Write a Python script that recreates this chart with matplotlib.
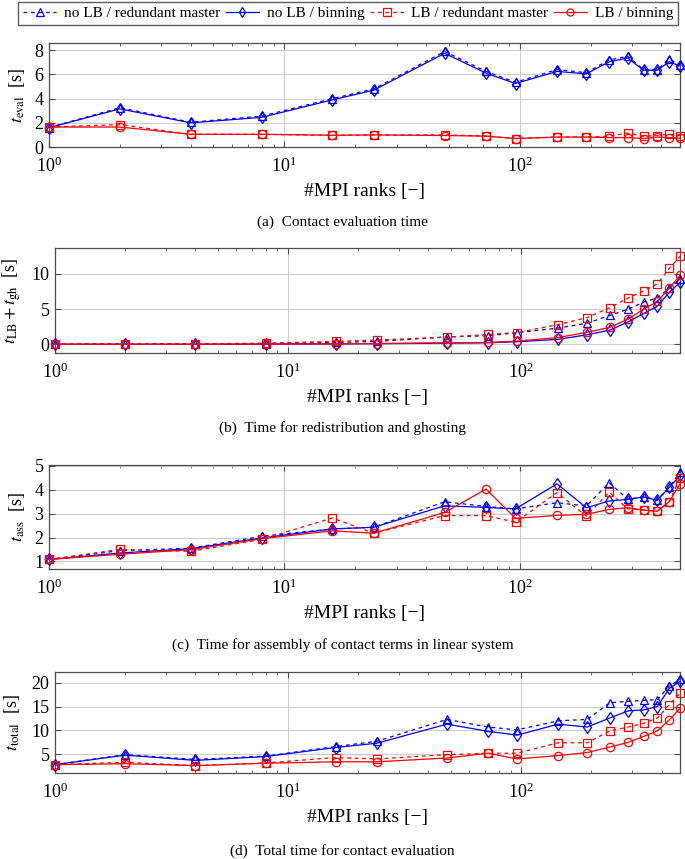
import numpy as np
import matplotlib
matplotlib.use("Agg")
import matplotlib.pyplot as plt

plt.rcParams['font.family'] = 'serif'
plt.rcParams['font.serif'] = ['Liberation Serif', 'DejaVu Serif']
plt.rcParams['mathtext.fontset'] = 'stix'

# -------------------------------
# Data
# -------------------------------
ranks = [1, 2, 4, 8, 16, 24, 48, 72, 96, 144, 192, 240, 288, 336, 384, 432, 480]

labels = ['no LB / redundant master', 'no LB / binning',
          'LB / redundant master', 'LB / binning']

# (a) contact evaluation time
eval_nolb_red = [1.6, 3.25, 2.05, 2.55, 4.0, 4.8, 7.9, 6.25, 5.35, 6.4, 6.15, 7.2, 7.5, 6.4, 6.4, 7.25, 6.8]
eval_nolb_bin = [1.6, 3.15, 2.0, 2.45, 3.9, 4.7, 7.75, 6.1, 5.25, 6.25, 6.05, 7.05, 7.35, 6.35, 6.35, 7.05, 6.7]
eval_lb_red = [1.65, 1.85, 1.05, 1.05, 0.97, 1.0, 1.0, 0.9, 0.7, 0.82, 0.82, 0.9, 1.15, 0.88, 0.95, 1.05, 0.93]
eval_lb_bin = [1.65, 1.65, 1.05, 1.05, 0.97, 1.0, 0.95, 0.9, 0.7, 0.82, 0.82, 0.78, 0.78, 0.7, 0.82, 0.78, 0.72]

# (b) redistribution and ghosting
redis_nolb_red = [0.0, 0.05, 0.05, 0.1, 0.25, 0.4, 1.05, 1.2, 1.65, 2.3, 3.0, 4.1, 5.0, 6.0, 6.6, 8.0, 9.3]
redis_nolb_bin = [0.0, 0.0, 0.0, 0.02, 0.05, 0.08, 0.15, 0.2, 0.35, 0.7, 1.35, 2.0, 3.2, 4.4, 5.4, 7.4, 8.8]
redis_lb_red = [0.0, 0.05, 0.05, 0.15, 0.4, 0.6, 1.0, 1.4, 1.65, 2.8, 3.8, 5.2, 6.6, 7.6, 8.6, 10.8, 12.5]
redis_lb_bin = [0.0, 0.0, 0.0, 0.02, 0.05, 0.1, 0.2, 0.25, 0.45, 0.95, 1.7, 2.4, 3.6, 5.0, 6.1, 8.0, 9.8]

# (c) assembly of contact terms
ass_nolb_red = [1.08, 1.45, 1.55, 2.05, 2.36, 2.43, 3.5, 3.3, 3.2, 3.46, 3.32, 4.3, 3.6, 3.7, 3.58, 4.1, 4.75]
ass_nolb_bin = [1.08, 1.35, 1.53, 1.98, 2.36, 2.43, 3.33, 3.26, 3.2, 4.25, 3.25, 3.53, 3.6, 3.7, 3.56, 4.1, 4.6]
ass_lb_red = [1.08, 1.5, 1.42, 1.92, 2.82, 2.18, 2.92, 2.92, 2.64, 3.88, 2.9, 3.9, 3.2, 3.15, 3.1, 3.5, 4.5]
ass_lb_bin = [1.08, 1.3, 1.49, 1.95, 2.28, 2.18, 3.05, 4.03, 2.8, 2.93, 2.97, 3.18, 3.25, 3.15, 3.1, 3.5, 4.25]

# (d) total time
tot_nolb_red = [2.8, 4.9, 3.9, 4.6, 6.6, 7.7, 12.3, 10.7, 10.1, 12.0, 12.3, 15.8, 16.1, 16.3, 16.45, 19.3, 20.7]
tot_nolb_bin = [2.8, 4.8, 3.7, 4.5, 6.4, 7.3, 11.3, 9.8, 9.0, 11.3, 10.7, 12.6, 14.1, 14.3, 15.0, 18.8, 20.3]
tot_lb_red = [2.8, 3.3, 2.6, 3.15, 4.3, 4.0, 4.9, 5.2, 5.2, 7.4, 7.4, 9.9, 10.7, 11.5, 12.6, 15.4, 17.8]
tot_lb_bin = [2.8, 3.0, 2.6, 3.1, 3.4, 3.4, 4.2, 5.2, 4.0, 4.7, 5.35, 6.5, 7.5, 8.75, 9.9, 12.2, 14.6]

panels = [
    ([eval_nolb_red, eval_nolb_bin, eval_lb_red, eval_lb_bin],
     r'$t_{\mathrm{eval}}$  [s]', (0, 8.6), [0, 2, 4, 6, 8],
     '(a)  Contact evaluation time'),
    ([redis_nolb_red, redis_nolb_bin, redis_lb_red, redis_lb_bin],
     r'$t_{\mathrm{LB}} + t_{\mathrm{gh}}$  [s]', (-1.25, 13.7), [0, 5, 10],
     '(b)  Time for redistribution and ghosting'),
    ([ass_nolb_red, ass_nolb_bin, ass_lb_red, ass_lb_bin],
     r'$t_{\mathrm{ass}}$  [s]', (0.68, 5.04), [1, 2, 3, 4, 5],
     '(c)  Time for assembly of contact terms in linear system'),
    ([tot_nolb_red, tot_nolb_bin, tot_lb_red, tot_lb_bin],
     r'$t_{\mathrm{total}}$  [s]', (1.05, 22.25), [5, 10, 15, 20],
     '(d)  Total time for contact evaluation'),
]

styles = [
    dict(color='blue', ls=(0, (3, 3)), marker='^'),
    dict(color='blue', ls='-', marker='d'),
    dict(color='red', ls=(0, (3, 3)), marker='s'),
    dict(color='red', ls='-', marker='o'),
]

# axes boxes in pixels: left, top, right, bottom
boxes = [(49, 43, 680, 147), (55, 248, 680, 353), (49, 465, 680, 569), (55, 672, 680, 773)]
caption_y = [222, 428, 645, 851]
ylabel_x = [17, 12, 17, 12]

W, H = 685, 859
fig = plt.figure(figsize=(W / 100, H / 100), dpi=100)

handles = None
for (series, ylab, ylim, yticks, cap), (l, t, r, b), cy, yx in zip(panels, boxes, caption_y, ylabel_x):
    ax = fig.add_axes([l / W, 1 - b / H, (r - l) / W, (b - t) / H])
    hs = []
    for vals, st in zip(series, styles):
        h, = ax.plot(ranks, vals, color=st['color'], ls=st['ls'], lw=0.9,
                     marker=st['marker'], ms=6, mfc='none', mec=st['color'], mew=0.9,
                     clip_on=False, zorder=3)
        hs.append(h)
    if handles is None:
        handles = hs
    ax.set_xscale('log')
    ax.set_xlim(1, 480)
    ax.set_ylim(*ylim)
    ax.set_yticks(yticks)
    ax.grid(True, which='major', color='0.8', lw=0.7)
    ax.tick_params(which='both', direction='in', top=True, right=True, labelsize=13, colors='0.3',
                   labelcolor='black')
    ax.tick_params(axis='y', which='major', length=4, pad=4)
    ax.tick_params(axis='x', which='major', length=4, pad=7)
    ax.tick_params(which='minor', length=2.5)
    for sp in ax.spines.values():
        sp.set_color('0.3')
        sp.set_linewidth(0.9)
    ax.set_xlabel('#MPI ranks [\u2212]', fontsize=14, labelpad=5)
    ax.set_ylabel(ylab, fontsize=13, va='center')
    ax.yaxis.set_label_coords((yx - l) / (r - l), 0.5)
    fig.text(0.5, 1 - cy / H, cap, ha='center', va='center', fontsize=11)

fig.legend(handles, labels, loc='upper center', bbox_to_anchor=(0.508, 1 - 2 / H), ncol=4,
           fontsize=11, frameon=True, fancybox=False, edgecolor='0.2',
           handlelength=2.2, handletextpad=0.5, columnspacing=0.35, borderpad=0.3,
           borderaxespad=0, markerscale=0.85)

fig.savefig('out.png', dpi=100)
